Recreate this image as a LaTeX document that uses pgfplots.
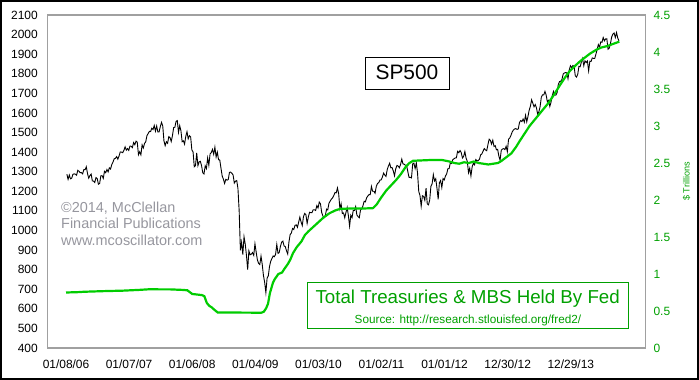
\documentclass[border=0pt]{standalone}
\usepackage{pgfplots}
\pgfplotsset{compat=1.18}
\usepackage{pgfplotstable}
\usetikzlibrary{calc}
\usepackage{fontspec}
\setmainfont{Liberation Sans}
\definecolor{linegreen}{RGB}{0,204,0}
\definecolor{textgreen}{RGB}{0,160,0}
\definecolor{framegray}{RGB}{160,160,160}
\definecolor{copygray}{RGB}{150,150,158}

\pgfplotstableread[row sep=\\]{v\\
1287\\ 1261\\ 1283\\ 1264\\ 1267\\ 1287\\ 1289\\ 1287\\ 1282\\ 1307\\ 1302\\ 1295\\ 1295\\ 1289\\ 1311\\ 1310\\ 1325\\ 1291\\ 1267\\ 1280\\ 1288\\ 1253\\ 1252\\ 1245\\ 1270\\ 1265\\ 1236\\ 1240\\ 1279\\ 1280\\ 1266\\ 1302\\ 1295\\ 1311\\ 1299\\ 1320\\ 1314\\ 1336\\ 1349\\ 1366\\ 1368\\ 1377\\ 1364\\ 1380\\ 1401\\ 1400\\ 1397\\ 1409\\ 1427\\ 1410\\ 1418\\
1409\\ 1431\\ 1430\\ 1423\\ 1449\\ 1438\\ 1456\\ 1451\\ 1387\\ 1402\\ 1386\\ 1437\\ 1421\\ 1444\\ 1453\\ 1484\\ 1495\\ 1506\\ 1505\\ 1522\\ 1515\\ 1536\\ 1507\\ 1533\\ 1503\\ 1503\\ 1530\\ 1552\\ 1534\\ 1458\\ 1433\\ 1453\\ 1445\\ 1479\\ 1474\\ 1454\\ 1484\\ 1525\\ 1527\\ 1557\\ 1561\\ 1501\\ 1535\\ 1509\\ 1453\\ 1458\\ 1441\\ 1481\\ 1504\\ 1468\\ 1484\\ 1478\\
1411\\ 1401\\ 1325\\ 1331\\ 1396\\ 1331\\ 1350\\ 1353\\ 1331\\ 1294\\ 1288\\ 1330\\ 1316\\ 1370\\ 1333\\ 1390\\ 1398\\ 1414\\ 1389\\ 1425\\ 1375\\ 1400\\ 1361\\ 1360\\ 1318\\ 1278\\ 1262\\ 1240\\ 1261\\ 1257\\ 1260\\ 1297\\ 1298\\ 1292\\ 1283\\ 1242\\ 1252\\ 1255\\ 1213\\ 1099\\ 899\\ 940\\ 877\\ 968\\ 930\\ 873\\ 800\\ 896\\ 876\\ 879\\ 887\\ 873\\
932\\ 890\\ 850\\ 832\\ 826\\ 869\\ 827\\ 770\\ 735\\ 683\\ 756\\ 768\\ 816\\ 843\\ 857\\ 870\\ 866\\ 878\\ 929\\ 883\\ 887\\ 919\\ 940\\ 946\\ 921\\ 918\\ 896\\ 880\\ 941\\ 979\\ 987\\ 1010\\ 1005\\ 1026\\ 1029\\ 1016\\ 1042\\ 1068\\ 1044\\ 1025\\ 1071\\ 1087\\ 1080\\ 1036\\ 1069\\ 1093\\ 1091\\ 1091\\ 1106\\ 1106\\ 1102\\ 1127\\
1115\\ 1145\\ 1136\\ 1092\\ 1074\\ 1066\\ 1075\\ 1109\\ 1105\\ 1139\\ 1150\\ 1160\\ 1167\\ 1179\\ 1194\\ 1192\\ 1217\\ 1187\\ 1111\\ 1136\\ 1087\\ 1089\\ 1065\\ 1092\\ 1117\\ 1076\\ 1022\\ 1078\\ 1065\\ 1102\\ 1102\\ 1122\\ 1079\\ 1071\\ 1065\\ 1105\\ 1110\\ 1126\\ 1149\\ 1146\\ 1166\\ 1176\\ 1183\\ 1183\\ 1225\\ 1200\\ 1200\\ 1190\\ 1225\\ 1240\\ 1244\\ 1257\\ 1258\\
1272\\ 1293\\ 1283\\ 1276\\ 1311\\ 1329\\ 1343\\ 1320\\ 1321\\ 1304\\ 1279\\ 1314\\ 1332\\ 1329\\ 1320\\ 1337\\ 1364\\ 1340\\ 1338\\ 1333\\ 1331\\ 1300\\ 1271\\ 1271\\ 1268\\ 1340\\ 1344\\ 1316\\ 1345\\ 1292\\ 1199\\ 1179\\ 1124\\ 1177\\ 1174\\ 1154\\ 1216\\ 1136\\ 1131\\ 1155\\ 1225\\ 1238\\ 1285\\ 1253\\ 1264\\ 1216\\ 1159\\ 1244\\ 1255\\ 1219\\ 1265\\ 1258\\
1278\\ 1289\\ 1315\\ 1316\\ 1345\\ 1342\\ 1361\\ 1366\\ 1370\\ 1371\\ 1404\\ 1397\\ 1408\\ 1398\\ 1370\\ 1378\\ 1403\\ 1369\\ 1353\\ 1295\\ 1318\\ 1278\\ 1325\\ 1343\\ 1335\\ 1362\\ 1355\\ 1357\\ 1363\\ 1386\\ 1391\\ 1405\\ 1418\\ 1411\\ 1407\\ 1438\\ 1466\\ 1460\\ 1441\\ 1461\\ 1429\\ 1433\\ 1412\\ 1414\\ 1380\\ 1359\\ 1409\\ 1416\\ 1418\\ 1413\\ 1430\\ 1402\\
1466\\ 1472\\ 1486\\ 1503\\ 1513\\ 1518\\ 1520\\ 1516\\ 1518\\ 1551\\ 1561\\ 1556\\ 1569\\ 1553\\ 1588\\ 1555\\ 1582\\ 1614\\ 1634\\ 1667\\ 1650\\ 1631\\ 1643\\ 1626\\ 1593\\ 1606\\ 1632\\ 1680\\ 1692\\ 1692\\ 1710\\ 1691\\ 1656\\ 1664\\ 1633\\ 1655\\ 1688\\ 1710\\ 1692\\ 1691\\ 1703\\ 1745\\ 1760\\ 1762\\ 1771\\ 1798\\ 1804\\ 1806\\ 1805\\ 1775\\ 1819\\ 1841\\
1831\\ 1842\\ 1838\\ 1790\\ 1783\\ 1797\\ 1838\\ 1836\\ 1859\\ 1878\\ 1841\\ 1866\\ 1857\\ 1865\\ 1815\\ 1864\\ 1863\\ 1881\\ 1878\\ 1878\\ 1900\\ 1924\\ 1949\\ 1936\\ 1963\\ 1961\\ 1985\\ 1968\\ 1978\\ 1978\\ 1925\\ 1931\\ 1955\\ 1988\\ 2003\\ 2008\\ 1985\\ 2010\\ 1982\\ 1968\\
}\spx

\pgfplotsset{
  common/.style={
    scale only axis, width=597.6bp, height=333bp,
    xmin=-15.1, xmax=477.4,
    tick style={draw=none},
    axis line style={framegray, line width=1.3bp},
    /pgf/number format/assume math mode=true,
    /pgf/number format/1000 sep={},
    tick label style={font=\fontsize{12}{14}\selectfont},
  }
}

\begin{document}
\begin{tikzpicture}
\begin{axis}[common,
  ymin=400, ymax=2100, ytick={400,500,...,2100},
  xtick={0,52,104,156,208,260,312,364,416},
  xticklabels={01/08/06,01/07/07,01/06/08,01/04/09,01/03/10,01/02/11,01/01/12,12/30/12,12/29/13},
  xticklabel style={yshift=-8.8bp},
  yticklabel style={xshift=-6.4bp, black}]
\addplot[black, line width=0.9bp] table[x expr=\coordindex+0.7, y=v]{\spx};
\end{axis}
\begin{axis}[common,
  ymin=0, ymax=4.5, ytick={0,0.5,1,1.5,2,2.5,3,3.5,4,4.5},
  yticklabel pos=right, xtick=\empty, clip=false,
  yticklabel style={textgreen, xshift=4.7bp}]
\addplot[linegreen, line width=2.2bp] coordinates {
(0,0.75) (10,0.755) (15,0.76) (30,0.768) (47,0.775) (60,0.785) (68,0.793) (86,0.792) (96,0.785) (100,0.78) (102,0.755) (104,0.73) (112,0.715) (114,0.70) (116,0.61) (118,0.57) (120,0.55) (122,0.52) (125,0.48) (161,0.477) (163,0.49) (165,0.54) (166.5,0.60) (168,0.74) (170.5,0.88) (172,0.93) (175,1.0) (178,1.02) (180,1.07) (183,1.14) (185,1.2) (187,1.28) (190,1.36) (194,1.44) (197,1.53) (200,1.58) (204,1.64) (208,1.70) (212,1.76) (217,1.82) (222,1.86) (226,1.88) (235,1.885) (245,1.885) (253,1.89) (256,1.94) (260,2.04) (264,2.13) (268,2.2) (272,2.27) (276,2.35) (280,2.45) (283,2.5) (286,2.53) (300,2.54) (310,2.54) (313,2.53) (316,2.52) (320,2.50) (324,2.49) (328,2.51) (332,2.50) (336,2.52) (340,2.50) (344,2.49) (348,2.48) (352,2.49) (356,2.50) (359,2.53) (363,2.58) (367,2.63) (371,2.72) (374,2.80) (378,2.90) (382,3.0) (386,3.08) (390,3.16) (394,3.24) (398,3.32) (402,3.42) (407,3.55) (411,3.65) (415,3.74) (420,3.82) (424,3.88) (428,3.93) (432,3.98) (437,4.03) (441,4.06) (446,4.08) (451,4.11) (456,4.14)
};
% SP500 box
\draw[black, line width=1bp] (rel axis cs:0.5310,0.7769) rectangle (rel axis cs:0.6720,0.8730);
\node[anchor=base, inner sep=0pt, font=\fontsize{21}{24}\selectfont] at (rel axis cs:0.6012,0.8078) {SP500};
% Fed box
\draw[textgreen, line width=1.2bp] (rel axis cs:0.4344,0.0592) rectangle (rel axis cs:0.9716,0.1973);
\node[anchor=base, inner sep=0pt, textgreen, font=\fontsize{18.8}{22}\selectfont] at (rel axis cs:0.7028,0.1348) {Total Treasuries \& MBS Held By Fed};
\node[anchor=base, inner sep=0pt, textgreen, font=\fontsize{11.8}{14}\selectfont] at (rel axis cs:0.7033,0.0721) {Source: http://research.stlouisfed.org/fred2/};
% copyright
\node[anchor=base west, inner sep=0pt, copygray, font=\fontsize{14.5}{17}\selectfont] at (rel axis cs:0.02226,0.4078) {©2014, McClellan};
\node[anchor=base west, inner sep=0pt, copygray, font=\fontsize{14.5}{17}\selectfont] at (rel axis cs:0.02226,0.3574) {Financial Publications};
\node[anchor=base west, inner sep=0pt, copygray, font=\fontsize{14.5}{17}\selectfont] at (rel axis cs:0.02226,0.3069) {www.mcoscillator.com};
% right label
\node[rotate=90, inner sep=0pt, textgreen, font=\fontsize{9.1}{11}\selectfont] at (rel axis cs:1.0689,0.5) {\$ Trillions};
\end{axis}
\draw[black, line width=2bp] ($(current axis.south west)+(-46.7bp,-31bp)$) rectangle ($(current axis.north east)+(52.7bp,14bp)$);
\pgfresetboundingbox
\useasboundingbox ($(current axis.south west)+(-47.7bp,-32bp)$) rectangle ($(current axis.north east)+(53.7bp,15bp)$);
\end{tikzpicture}
\end{document}
